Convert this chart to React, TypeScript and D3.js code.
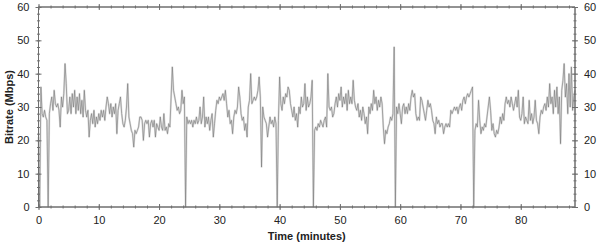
import React, { useEffect, useRef } from 'react';
import * as d3 from 'd3';

// bitrate samples, one every 0.2 minute (five per row = one minute)
const bitrate: number[] = [
  21, 0, 36, 28, 27,
  29, 27, 26, 0, 28,
  31, 33, 29, 35, 31,
  30, 31, 29, 24, 33,
  30, 34, 43, 37, 28,
  29, 33, 28, 34, 30,
  35, 28, 33, 29, 34,
  28, 32, 27, 35, 29,
  27, 29, 21, 26, 28,
  25, 29, 24, 27, 25,
  28, 26, 29, 27, 29,
  26, 30, 33, 31, 28,
  31, 27, 30, 28, 31,
  22, 29, 31, 33, 28,
  25, 24, 26, 30, 37,
  27, 25, 23, 22, 18,
  23, 22, 23, 24, 27,
  27, 26, 20, 25, 26,
  25, 26, 21, 25, 26,
  24, 26, 21, 25, 24,
  23, 27, 24, 23, 28,
  23, 24, 22, 25, 24,
  33, 42, 35, 33, 31,
  29, 30, 28, 29, 35,
  31, 33, 0, 27, 25,
  26, 25, 26, 24, 26,
  25, 27, 25, 26, 30,
  25, 27, 33, 24, 27,
  25, 27, 23, 26, 28,
  21, 25, 29, 32, 31,
  33, 32, 33, 34, 32,
  35, 31, 27, 29, 25,
  26, 22, 27, 29, 28,
  30, 36, 33, 28, 26,
  27, 23, 25, 21, 30,
  32, 40, 31, 32, 33,
  32, 33, 35, 39, 33,
  12, 30, 27, 26, 25,
  21, 24, 27, 25, 26,
  24, 27, 25, 0, 26,
  39, 31, 29, 33, 31,
  34, 33, 36, 35, 31,
  29, 27, 30, 26, 28,
  24, 30, 28, 33, 30,
  31, 37, 29, 33, 30,
  31, 33, 38, 0, 23,
  24, 23, 25, 24, 26,
  25, 24, 26, 27, 24,
  40, 30, 29, 30, 27,
  28, 31, 33, 30, 34,
  32, 36, 30, 33, 31,
  34, 29, 35, 31, 33,
  31, 38, 32, 30, 29,
  31, 27, 29, 26, 30,
  28, 25, 27, 22, 30,
  28, 31, 29, 35, 31,
  33, 29, 32, 30, 33,
  31, 24, 19, 23, 22,
  24, 25, 27, 26, 28,
  48, 0, 30, 28, 31,
  28, 25, 30, 31, 28,
  30, 28, 31, 29, 33,
  35, 33, 34, 28, 26,
  27, 26, 33, 32, 30,
  28, 26, 29, 32, 30,
  31, 29, 26, 25, 22,
  27, 25, 26, 24, 25,
  25, 22, 24, 25, 24,
  25, 24, 29, 28, 29,
  30, 29, 30, 28, 30,
  31, 29, 32, 33, 31,
  33, 34, 33, 34, 35,
  36, 0, 23, 25, 24,
  32, 26, 22, 24, 23,
  25, 24, 27, 30, 33,
  29, 23, 25, 22, 21,
  23, 22, 24, 27, 25,
  28, 26, 31, 33, 31,
  32, 30, 33, 31, 29,
  31, 33, 30, 35, 27,
  26, 28, 33, 25, 27,
  26, 25, 32, 26, 28,
  25, 27, 32, 26, 25,
  22, 27, 29, 28, 30,
  31, 29, 33, 30, 37,
  31, 33, 28, 35, 30,
  36, 28, 33, 19, 35,
  38, 43, 33, 37, 28,
  40, 30, 42, 29, 33,
  35,
];
const sampleStep = 0.2; // minutes between samples

const xDomain: [number, number] = [0, 89];
const yDomain: [number, number] = [0, 60];
const xMajor = [0, 10, 20, 30, 40, 50, 60, 70, 80];
const yMajor = [0, 10, 20, 30, 40, 50, 60];

const W = 600;
const H = 243;
const margin = { left: 38.5, right: 25, top: 7, bottom: 36 };
const axisColor = '#6e6e6e';
const font = 'Liberation Sans, Arial, sans-serif';

export default function App() {
  const ref = useRef<SVGSVGElement>(null);

  useEffect(() => {
    const svg = d3.select(ref.current);
    svg.selectAll('*').remove();

    const x = d3.scaleLinear().domain(xDomain).range([margin.left, W - margin.right]);
    const y = d3.scaleLinear().domain(yDomain).range([H - margin.bottom, margin.top]);

    const pts = bitrate.map((v, i) => ({ t: i * sampleStep, v }));
    const line = d3.line<{ t: number; v: number }>().x(d => x(d.t)).y(d => y(d.v));

    // soft halo + darker trace
    svg.append('path')
      .datum(pts)
      .attr('fill', 'none')
      .attr('stroke', '#dedede')
      .attr('stroke-width', 2)
      .attr('stroke-linejoin', 'round')
      .attr('d', line);
    svg.append('path')
      .datum(pts)
      .attr('fill', 'none')
      .attr('stroke', '#777')
      .attr('stroke-width', 0.6)
      .attr('d', line);

    const x0 = margin.left;
    const x1 = W - margin.right;
    const y0 = H - margin.bottom;
    const y1 = margin.top;

    const styleAxis = (g: d3.Selection<SVGGElement, unknown, null, undefined>) => {
      g.select('.domain').attr('stroke', axisColor);
      g.selectAll('.tick line').attr('stroke', axisColor);
      g.selectAll('.tick text')
        .attr('fill', '#222')
        .attr('font-family', font)
        .attr('font-size', 11);
    };

    const xMinor = d3.range(0, 89, 2);
    const yMinor = d3.range(0, 61, 2);

    // bottom axis
    const gb = svg.append('g').attr('transform', `translate(0,${y0})`);
    gb.append('g').call(d3.axisBottom(x).tickValues(xMinor).tickSize(1.5).tickFormat(() => ''))
      .call(g => g.selectAll('.tick line').attr('y1', -1.5));
    const gbm = gb.append('g').call(d3.axisBottom(x).tickValues(xMajor).tickSize(3).tickPadding(6).tickFormat(d3.format('d')));
    gbm.selectAll('.tick line').attr('y1', -3);
    gb.selectAll('.domain').attr('d', `M${x0},0H${x1}`);
    gb.selectAll('g').each(function () { styleAxis(d3.select(this as SVGGElement)); });

    // top axis (ticks only)
    const gt = svg.append('g').attr('transform', `translate(0,${y1})`);
    gt.append('g').call(d3.axisTop(x).tickValues(xMinor).tickSize(1.5).tickFormat(() => ''))
      .call(g => g.selectAll('.tick line').attr('y1', 1.5));
    gt.append('g').call(d3.axisTop(x).tickValues(xMajor).tickSize(3).tickFormat(() => ''))
      .call(g => g.selectAll('.tick line').attr('y1', 3));
    gt.selectAll('.domain').attr('d', `M${x0},0H${x1}`);
    gt.selectAll('g').each(function () { styleAxis(d3.select(this as SVGGElement)); });

    // left axis
    const gl = svg.append('g').attr('transform', `translate(${x0},0)`);
    gl.append('g').call(d3.axisLeft(y).tickValues(yMinor).tickSize(1.5).tickFormat(() => ''))
      .call(g => g.selectAll('.tick line').attr('x1', 1.5));
    gl.append('g').call(d3.axisLeft(y).tickValues(yMajor).tickSize(3).tickPadding(6).tickFormat(d3.format('d')))
      .call(g => g.selectAll('.tick line').attr('x1', 3));
    gl.selectAll('.domain').attr('d', `M0,${y0}V${y1}`);
    gl.selectAll('g').each(function () { styleAxis(d3.select(this as SVGGElement)); });

    // right axis
    const gr = svg.append('g').attr('transform', `translate(${x1},0)`);
    gr.append('g').call(d3.axisRight(y).tickValues(yMinor).tickSize(1.5).tickFormat(() => ''))
      .call(g => g.selectAll('.tick line').attr('x1', -1.5));
    gr.append('g').call(d3.axisRight(y).tickValues(yMajor).tickSize(3).tickPadding(6).tickFormat(d3.format('d')))
      .call(g => g.selectAll('.tick line').attr('x1', -3));
    gr.selectAll('.domain').attr('d', `M0,${y0}V${y1}`);
    gr.selectAll('g').each(function () { styleAxis(d3.select(this as SVGGElement)); });

    svg.append('text')
      .attr('x', (x0 + x1) / 2)
      .attr('y', 240)
      .attr('text-anchor', 'middle')
      .attr('font-family', font)
      .attr('font-weight', 'bold')
      .attr('font-size', 11)
      .attr('fill', '#222')
      .text('Time (minutes)');

    svg.append('text')
      .attr('transform', `translate(13,${(y0 + y1) / 2}) rotate(-90)`)
      .attr('text-anchor', 'middle')
      .attr('font-family', font)
      .attr('font-weight', 'bold')
      .attr('font-size', 11)
      .attr('fill', '#222')
      .text('Bitrate (Mbps)');
  }, []);

  return (
    <svg
      ref={ref}
      width={W}
      height={H}
      style={{ position: 'absolute', left: 0, top: 0, background: '#fff' }}
    />
  );
}
